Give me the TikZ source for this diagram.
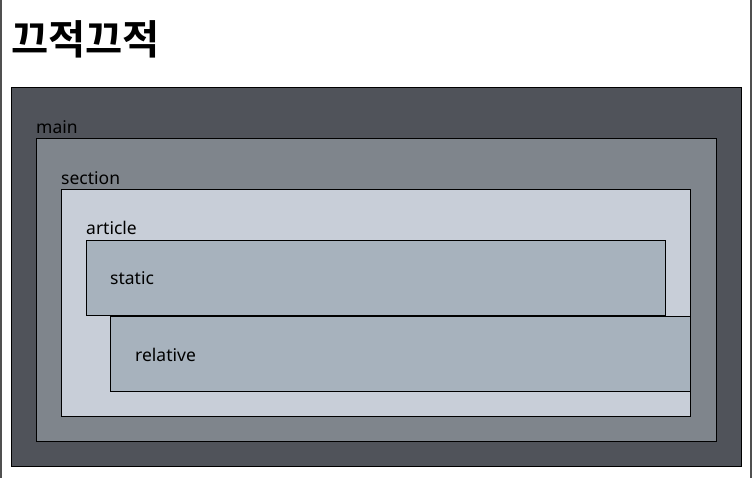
\documentclass[tikz,border=0pt]{standalone}
\usepackage{fontspec}
\setmainfont{Noto Sans}
\newfontfamily\kofont{Noto Sans CJK KR}[BoldFont={Noto Sans CJK KR Bold}]
\definecolor{mainfill}{HTML}{50535A}
\definecolor{sectionfill}{HTML}{7F858C}
\definecolor{articlefill}{HTML}{C8CED8}
\definecolor{itemfill}{HTML}{A7B2BD}
\definecolor{edgegray}{HTML}{505050}
\tikzset{
  boxline/.style={draw=black,line width=1pt},
  boxlabel/.style={anchor=base west,inner sep=0pt,font=\fontsize{17.5}{20}\selectfont},
  pageedge/.style={draw=edgegray,line width=2pt}
}

\begin{document}
\begin{tikzpicture}[x=1pt,y=-1pt]
\useasboundingbox (0,0) rectangle (753,478);
\fill[white] (0,0) rectangle (753,478);
\draw[pageedge] (1,0) -- (1,478);
\draw[pageedge] (751,0) -- (751,478);
\node[anchor=west,inner sep=0pt] (title) at (11,39) {\kofont\bfseries\fontsize{40.5}{44}\selectfont 끄적끄적};
% nested boxes
\draw[boxline,fill=mainfill] (11.5,87.5) rectangle (741.5,466.5);
\node[boxlabel] (mainlbl) at (36,134) {main};
\draw[boxline,fill=sectionfill] (36.5,138.5) rectangle (716.5,441.5);
\node[boxlabel] (sectionlbl) at (61,185) {section};
\draw[boxline,fill=articlefill] (61.5,189.5) rectangle (690.5,416.5);
\node[boxlabel] (articlelbl) at (86,235) {article};
\draw[boxline,fill=itemfill] (86.5,240.5) rectangle (665.5,315.5);
\node[boxlabel] (staticlbl) at (110,285) {static};
\draw[boxline,fill=itemfill] (110.5,316.5) rectangle (690.5,391.5);
\node[boxlabel] (relativelbl) at (135,361.5) {relative};
\end{tikzpicture}
\end{document}
